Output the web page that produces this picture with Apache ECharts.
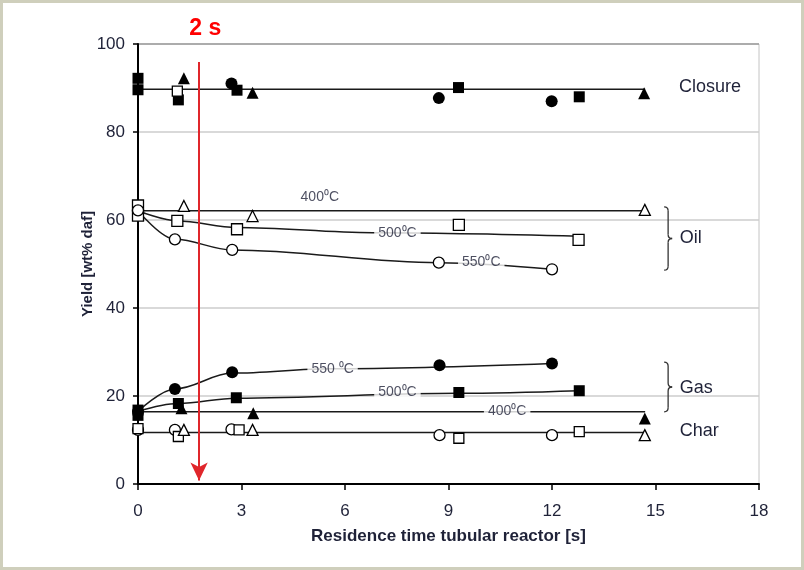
<!DOCTYPE html>
<html lang="en">
<head>
<meta charset="UTF-8">
<title>Yield vs residence time</title>
<script src="https://cdn.jsdelivr.net/npm/echarts@6/dist/echarts.min.js"></script>
<style>
  html, body { margin: 0; padding: 0; background: #fff; }
  #main { width: 804px; height: 570px; }
  #frame { position: absolute; left: 0; top: 0; width: 804px; height: 570px;
           box-sizing: border-box; border: 3px solid #cfcfbc; pointer-events: none; }
</style>
</head>
<body>
<div id="main"></div>
<div id="frame"></div>

<script>
    // measured points [residence time s, yield wt% daf]
    const closure550 = [[2.71, 91.0], [8.72, 87.7], [11.99, 87.0]];
    const closure500 = [[0, 92.2], [0, 89.6], [1.17, 87.3], [2.87, 89.5], [9.29, 90.1], [12.79, 88.0]];
    const closure400 = [[1.33, 92.2], [3.32, 88.9], [14.67, 88.8]];
    const closureOpen = [[1.14, 89.3]];

    const oil400 = [[1.33, 63.2], [3.32, 60.9], [14.69, 62.3]];
    const oil500 = [[0, 63.3], [0, 61.0], [1.14, 59.8], [2.87, 57.9], [9.3, 58.9], [12.77, 55.5]];
    const oil550 = [[0, 62.2], [1.07, 55.6], [2.73, 53.2], [8.72, 50.3], [12.0, 48.8]];

    const gas400 = [[1.26, 17.2], [3.34, 16.1], [14.69, 14.9]];
    const gas500 = [[0, 16.8], [0, 15.6], [1.17, 18.3], [2.85, 19.6], [9.3, 20.8], [12.79, 21.2]];
    const gas550 = [[0, 16.5], [1.07, 21.6], [2.73, 25.4], [8.74, 27.0], [12.0, 27.4]];

    const charCircle = [[0, 12.3], [1.07, 12.3], [2.71, 12.4], [8.74, 11.1], [12.0, 11.1]];
    const charSquare = [[0, 12.6], [1.17, 10.8], [2.93, 12.3], [9.3, 10.4], [12.79, 11.9]];
    const charTriangle = [[1.33, 12.3], [3.32, 12.3], [14.69, 11.1]];

    // trend lines as drawn in the figure
    const closureFit = [[0, 89.7], [14.7, 89.7]];
    const oil400Fit = [[0, 62.1], [14.7, 62.1]];
    const oil500Fit = [[0, 62.1], [1.14, 59.8], [2.87, 58.3], [6.8, 57.1], [12.8, 56.3]];
    const oil550Fit = [[0, 62.1], [1.07, 55.6], [2.73, 53.2], [8.72, 50.3], [12.0, 48.8]];
    const gas400Fit = [[0, 16.4], [14.7, 16.4]];
    const gas500Fit = [[0, 16.5], [1.17, 18.3], [2.85, 19.5], [9.3, 20.6], [12.79, 21.2]];
    const gas550Fit = [[0, 16.5], [1.07, 21.6], [2.73, 25.2], [5.6, 26.2], [12.0, 27.4]];
    const charFit = [[0, 11.7], [14.7, 11.7]];

    const lineLabels = ['400⁰C', '500⁰C', '550⁰C', '550 ⁰C', '500⁰C', '400⁰C'];
    const lineLabelAt = [[5.27, 65.2], [7.52, 57.0], [9.95, 50.4], [5.64, 26.1], [7.52, 20.9], [10.7, 16.6]];

    const groupNames = ['Closure', 'Oil', 'Gas', 'Char'];
    const groupAt = [[15.68, 90.3], [15.7, 55.8], [15.7, 21.8], [15.7, 12.0]];

    const FONT = '"Liberation Sans", Arial, sans-serif';
    const TXT = '#1f2238';

    const markers = function (name, data, symbol, filled, size) {
        return {
            name: name, type: 'scatter', data: data, symbol: symbol, symbolSize: size, z: 5,
            itemStyle: filled ? { color: '#000', opacity: 1 } : { color: '#fff', borderColor: '#000', borderWidth: 1.3, opacity: 1 }
        };
    };
    const fit = function (name, data, smooth) {
        return {
            name: name, type: 'line', data: data, symbol: 'none', silent: true, z: 2,
            smooth: smooth ? 0.35 : false, smoothMonotone: 'x',
            lineStyle: { color: '#1a1a1a', width: 1.5 }
        };
    };

    const myChart = echarts.init(document.getElementById('main'));
    myChart.setOption({
        backgroundColor: '#fff',
        animation: false,
        grid: { left: 138, right: 45, top: 44, bottom: 86, show: true, borderColor: '#c4c4c4', borderWidth: 1 },
        xAxis: {
            type: 'value', min: 0, max: 18, interval: 3,
            name: 'Residence time tubular reactor [s]', nameLocation: 'middle', nameGap: 44,
            nameTextStyle: { fontFamily: FONT, fontSize: 17, fontWeight: 'bold', color: TXT },
            axisLine: { lineStyle: { color: '#000', width: 2 } },
            axisTick: { length: 6, lineStyle: { color: '#000', width: 1.5 } },
            axisLabel: { margin: 19, fontFamily: FONT, fontSize: 17, color: TXT },
            splitLine: { show: false }
        },
        yAxis: {
            type: 'value', min: 0, max: 100, interval: 20,
            name: 'Yield [wt% daf]', nameLocation: 'middle', nameGap: 43, nameMoveOverlap: false,
            nameTextStyle: { fontFamily: FONT, fontSize: 15, fontWeight: 'bold', color: TXT },
            axisLine: { lineStyle: { color: '#000', width: 2 } },
            axisTick: { length: 5, lineStyle: { color: '#000', width: 1.5 } },
            axisLabel: { margin: 13, fontFamily: FONT, fontSize: 17, color: TXT },
            splitLine: { lineStyle: { color: ['#cccccc', '#cccccc', '#cccccc', '#cccccc', '#cccccc', '#9a9a9a'], width: 1.5 } }
        },
        series: [
            fit('closure fit', closureFit, false),
            fit('oil 400 fit', oil400Fit, false),
            fit('oil 500 fit', oil500Fit, true),
            fit('oil 550 fit', oil550Fit, true),
            fit('gas 400 fit', gas400Fit, false),
            fit('gas 500 fit', gas500Fit, true),
            fit('gas 550 fit', gas550Fit, true),
            fit('char fit', charFit, false),

            markers('closure 550', closure550, 'circle', true, 12),
            markers('closure 500', closure500, 'rect', true, 11),
            markers('closure 400', closure400, 'triangle', true, 12),
            markers('closure open', closureOpen, 'rect', false, 10),

            markers('oil 400', oil400, 'triangle', false, 11),
            markers('oil 500', oil500, 'rect', false, 11),
            markers('oil 550', oil550, 'circle', false, 11),

            markers('gas 400', gas400, 'triangle', true, 12),
            markers('gas 500', gas500, 'rect', true, 11),
            markers('gas 550', gas550, 'circle', true, 12),

            markers('char circle', charCircle, 'circle', false, 11),
            markers('char square', charSquare, 'rect', false, 10),
            markers('char triangle', charTriangle, 'triangle', false, 11),

            {
                name: 'line labels', type: 'scatter', symbolSize: 0, z: 6, silent: true,
                data: lineLabels.map(function (t, i) { return { name: t, value: lineLabelAt[i] }; }),
                label: {
                    show: true, position: 'inside', formatter: '{b}',
                    fontFamily: FONT, fontSize: 14, color: TXT,
                    backgroundColor: '#fff', padding: [1, 4]
                },
                markLine: {
                    silent: true, symbol: ['none', 'arrow'], symbolSize: [13, 18],
                    lineStyle: { color: '#e0262b', width: 2, type: 'solid' },
                    label: { show: false },
                    data: [[{ coord: [1.77, 95.9] }, { coord: [1.77, 0.8] }]]
                }
            }
        ]
    });

    // annotations drawn in pixel space from data coordinates
    const px = function (x, y) { return myChart.convertToPixel({ gridIndex: 0 }, [x, y]); };
    const braceStyle = { stroke: '#333', lineWidth: 1.3, fill: null };
    const brace = function (x, yTop, yBot) {
        const a = px(x, yTop), b = px(x, yBot);
        const x0 = a[0], w = 8, t = a[1], bo = b[1], m = (t + bo) / 2, r = 4;
        const xm = x0 + w / 2;
        const curve = function (x1, y1, cx, cy, x2, y2) {
            return { type: 'bezierCurve', z: 10, silent: true, style: braceStyle,
                     shape: { x1: x1, y1: y1, cpx1: cx, cpy1: cy, x2: x2, y2: y2 } };
        };
        const seg = function (x1, y1, x2, y2) {
            return { type: 'line', z: 10, silent: true, style: braceStyle,
                     shape: { x1: x1, y1: y1, x2: x2, y2: y2 } };
        };
        return [
            curve(x0, t, xm, t, xm, t + r),
            seg(xm, t + r, xm, m - r),
            curve(xm, m - r, xm, m, x0 + w, m),
            curve(x0 + w, m, xm, m, xm, m + r),
            seg(xm, m + r, xm, bo - r),
            curve(xm, bo - r, xm, bo, x0, bo)
        ];
    };
    let graphics = [];
    groupNames.forEach(function (t, i) {
        const p = px(groupAt[i][0], groupAt[i][1]);
        graphics.push({
            type: 'text', x: p[0], y: p[1], z: 10,
            style: { text: t, fontFamily: FONT, fontSize: 18, fill: TXT, align: 'left', verticalAlign: 'middle' }
        });
    });
    [[63, 48.6], [27.7, 16.4]].forEach(function (r) {
        graphics = graphics.concat(brace(15.25, r[0], r[1]));
    });
    const p2s = px(1.95, 103.5);
    graphics.push({
        type: 'text', x: p2s[0], y: p2s[1], z: 10,
        style: { text: '2 s', fontFamily: FONT, fontSize: 23,
                 fontWeight: 'bold', fill: '#f00', align: 'center', verticalAlign: 'middle' }
    });
    myChart.setOption({ graphic: graphics });
</script>
</body>
</html>
